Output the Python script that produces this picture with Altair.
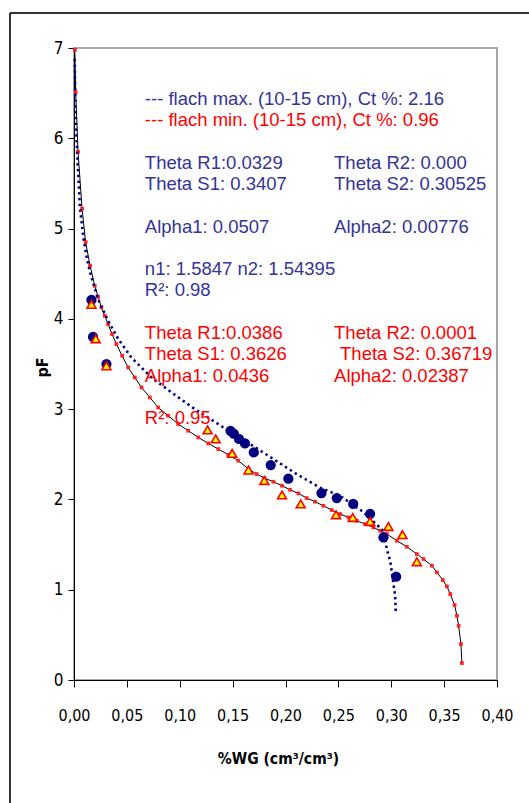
import altair as alt
import pandas as pd

# ---------------- data ----------------
# observed points, "flach max." (navy circles)
max_obs_x = [0.0165, 0.0180, 0.0307, 0.1480, 0.1510, 0.1560, 0.1617, 0.1700,
             0.1860, 0.2027, 0.2340, 0.2485, 0.2640, 0.2800, 0.2926, 0.3046]
max_obs_y = [4.21, 3.80, 3.50, 2.76, 2.73, 2.67, 2.62, 2.52,
             2.38, 2.23, 2.07, 2.015, 1.95, 1.84, 1.58, 1.144]

# observed points, "flach min." (yellow triangles)
min_obs_x = [0.0165, 0.0205, 0.0307, 0.1263, 0.1340, 0.1496, 0.1650, 0.1800,
             0.1967, 0.2144, 0.2478, 0.2636, 0.2800, 0.2973, 0.3106, 0.3242]
min_obs_y = [4.16, 3.78, 3.48, 2.77, 2.67, 2.51, 2.325, 2.21,
             2.05, 1.95, 1.83, 1.80, 1.756, 1.70, 1.61, 1.31]

# fitted curve, "flach max." (blue dotted)
max_fit_x = [0.0007, 0.0013, 0.0032, 0.0057, 0.0089, 0.0123, 0.0158, 0.0227,
             0.0322, 0.0417, 0.0543, 0.0733, 0.0922, 0.1143, 0.1364, 0.1550,
             0.1710, 0.2106, 0.2327, 0.2516, 0.2737, 0.2926, 0.2958, 0.2990,
             0.3037, 0.3043]
max_fit_y = [6.88, 6.33, 5.78, 5.22, 4.90, 4.66, 4.49, 4.22,
             3.98, 3.78, 3.57, 3.35, 3.185, 3.00, 2.835, 2.69,
             2.58, 2.28, 2.13, 2.04, 1.86, 1.65, 1.45, 1.32,
             0.93, 0.73]

# fitted curve, "flach min." (black line with red markers)
min_fit_x = [0.0008, 0.0016, 0.0038, 0.0076, 0.0110, 0.0152, 0.0196, 0.0228,
             0.0259, 0.0291, 0.0322, 0.0360, 0.0401, 0.0455, 0.0512, 0.0575,
             0.0638, 0.0717, 0.0796, 0.0890, 0.0985, 0.1080, 0.1175, 0.1269,
             0.1364, 0.1459, 0.1553, 0.1651, 0.1727, 0.1800, 0.1885, 0.1967,
             0.2043, 0.2122, 0.2200, 0.2279, 0.2358, 0.2437, 0.2516, 0.2595,
             0.2674, 0.2753, 0.2832, 0.2895, 0.2958, 0.3053, 0.3147, 0.3242,
             0.3305, 0.3384, 0.3432, 0.3488, 0.3526, 0.3558, 0.3599, 0.3621,
             0.3637, 0.3659, 0.3668]
min_fit_y = [6.98, 6.51, 5.85, 5.22, 4.85, 4.59, 4.367, 4.245,
             4.127, 4.034, 3.942, 3.831, 3.721, 3.591, 3.462, 3.351,
             3.241, 3.130, 3.019, 2.927, 2.835, 2.761, 2.687, 2.621,
             2.558, 2.495, 2.429, 2.336, 2.281, 2.237, 2.196, 2.152,
             2.107, 2.067, 2.015, 1.975, 1.930, 1.882, 1.838, 1.801,
             1.764, 1.727, 1.690, 1.653, 1.617, 1.543, 1.476, 1.395,
             1.340, 1.266, 1.192, 1.107, 1.037, 0.952, 0.830, 0.712,
             0.601, 0.398, 0.188]

x_ticks = [0.0, 0.05, 0.10, 0.15, 0.20, 0.25, 0.30, 0.35, 0.40]
y_ticks = [0, 1, 2, 3, 4, 5, 6, 7]

# annotation text (text, series, column, row)
note_text = ["--- flach max. (10-15 cm), Ct %: 2.16",
             "--- flach min. (10-15 cm), Ct %: 0.96",
             "Theta R1:0.0329", "Theta R2: 0.000",
             "Theta S1: 0.3407", "Theta S2: 0.30525",
             "Alpha1: 0.0507", "Alpha2: 0.00776",
             "n1: 1.5847 n2: 1.54395",
             "R²: 0.98",
             "Theta R1:0.0386", "Theta R2: 0.0001",
             "Theta S1: 0.3626", "Theta S2: 0.36719",
             "Alpha1: 0.0436", "Alpha2: 0.02387",
             "R²: 0.95"]
note_series = ["max", "min", "max", "max", "max", "max", "max", "max", "max",
               "max", "min", "min", "min", "min", "min", "min", "min"]
note_x = [0.067, 0.067, 0.067, 0.2459, 0.067, 0.2459, 0.067, 0.2459, 0.067,
          0.067, 0.067, 0.2459, 0.067, 0.2516, 0.067, 0.2459, 0.067]
note_y = [6.370, 6.135, 5.662, 5.662, 5.426, 5.426, 4.956, 4.956, 4.484,
          4.248, 3.776, 3.776, 3.540, 3.540, 3.305, 3.305, 2.833]

# ---------------- tables ----------------
max_obs = pd.DataFrame({"x": max_obs_x, "y": max_obs_y})
min_obs = pd.DataFrame({"x": min_obs_x, "y": min_obs_y})
max_fit = pd.DataFrame({"x": max_fit_x, "y": max_fit_y, "o": range(len(max_fit_x))})
min_fit = pd.DataFrame({"x": min_fit_x, "y": min_fit_y, "o": range(len(min_fit_x))})
notes = pd.DataFrame({"t": note_text, "s": note_series, "x": note_x, "y": note_y})

NARROW = "DejaVu Sans Condensed"
TEXT = "Liberation Sans, Arial, sans-serif"

X = alt.X("x:Q",
          scale=alt.Scale(domain=[0, 0.4], nice=False, zero=False),
          axis=alt.Axis(values=x_ticks, grid=False,
                        labelExpr="replace(format(datum.value, '.2f'), '.', ',')",
                        title="%WG (cm³/cm³)", titleFont=NARROW, titleFontSize=15.5,
                        titleFontWeight="bold", titleX=204, titleY=83,
                        titleBaseline="alphabetic", titleAlign="center",
                        labelFont=NARROW, labelFontSize=16, labelPadding=20,
                        tickSize=7, labelFlush=False))
Y = alt.Y("y:Q",
          scale=alt.Scale(domain=[0, 7], nice=False, zero=False),
          axis=alt.Axis(values=y_ticks, grid=False, format="d",
                        title="pF", titleFont=NARROW, titleFontSize=16,
                        titleFontWeight="bold", titleAngle=-90,
                        titleX=-27, titleY=319, titleBaseline="alphabetic",
                        titleAlign="center",
                        labelFont=NARROW, labelFontSize=17, labelPadding=5,
                        tickSize=6))

min_line = alt.Chart(min_fit).mark_line(color="black", strokeWidth=1).encode(
    x=X, y=Y, order="o:Q")
min_marks = alt.Chart(min_fit).mark_point(shape="square", filled=True, color="#ff1a1a",
                                          size=14, opacity=0.95).encode(x=X, y=Y)
max_line = alt.Chart(max_fit).mark_line(color="#000080", strokeWidth=2.6,
                                        strokeDash=[2.4, 3.4]).encode(
    x=X, y=Y, order="o:Q")
max_pts = alt.Chart(max_obs).mark_point(shape="circle", filled=True, color="#000080",
                                        size=105, opacity=1).encode(x=X, y=Y)
min_pts = alt.Chart(min_obs).mark_point(shape="triangle-up", filled=True,
                                        fill="#ffff00", stroke="#ff0000",
                                        strokeWidth=1.6, size=80, opacity=1).encode(x=X, y=Y)
texts = alt.Chart(notes).mark_text(align="left", baseline="alphabetic",
                                   font=TEXT, fontSize=18.5).encode(
    x=X, y=Y, text="t:N",
    color=alt.Color("s:N", scale=alt.Scale(domain=["max", "min"],
                                           range=["#333399", "#ff0000"]),
                    legend=None))

one = pd.DataFrame({"a": [0]})
border_top = alt.Chart(one).mark_rule(color="#333333", strokeWidth=2).encode(
    x=alt.value(-64), x2=alt.value(520), y=alt.value(-35))
border_left = alt.Chart(one).mark_rule(color="#333333", strokeWidth=2).encode(
    x=alt.value(-64), y=alt.value(-35), y2=alt.value(800))

chart = alt.layer(
    min_line, min_marks, max_line, max_pts, min_pts, texts, border_top, border_left
).properties(
    width=423, height=632,
    autosize=alt.AutoSizeParams(type="none"),
    padding={"left": 74, "top": 48, "right": 32, "bottom": 123},
    background="white",
).configure_view(
    stroke="#a6a6a6", strokeWidth=2
).configure_axis(
    domainColor="black", domainWidth=1, tickColor="black", tickWidth=1,
    labelColor="black", titleColor="black", zindex=1
)

chart.save("out.html", embed_options={"renderer": "svg", "actions": False})
